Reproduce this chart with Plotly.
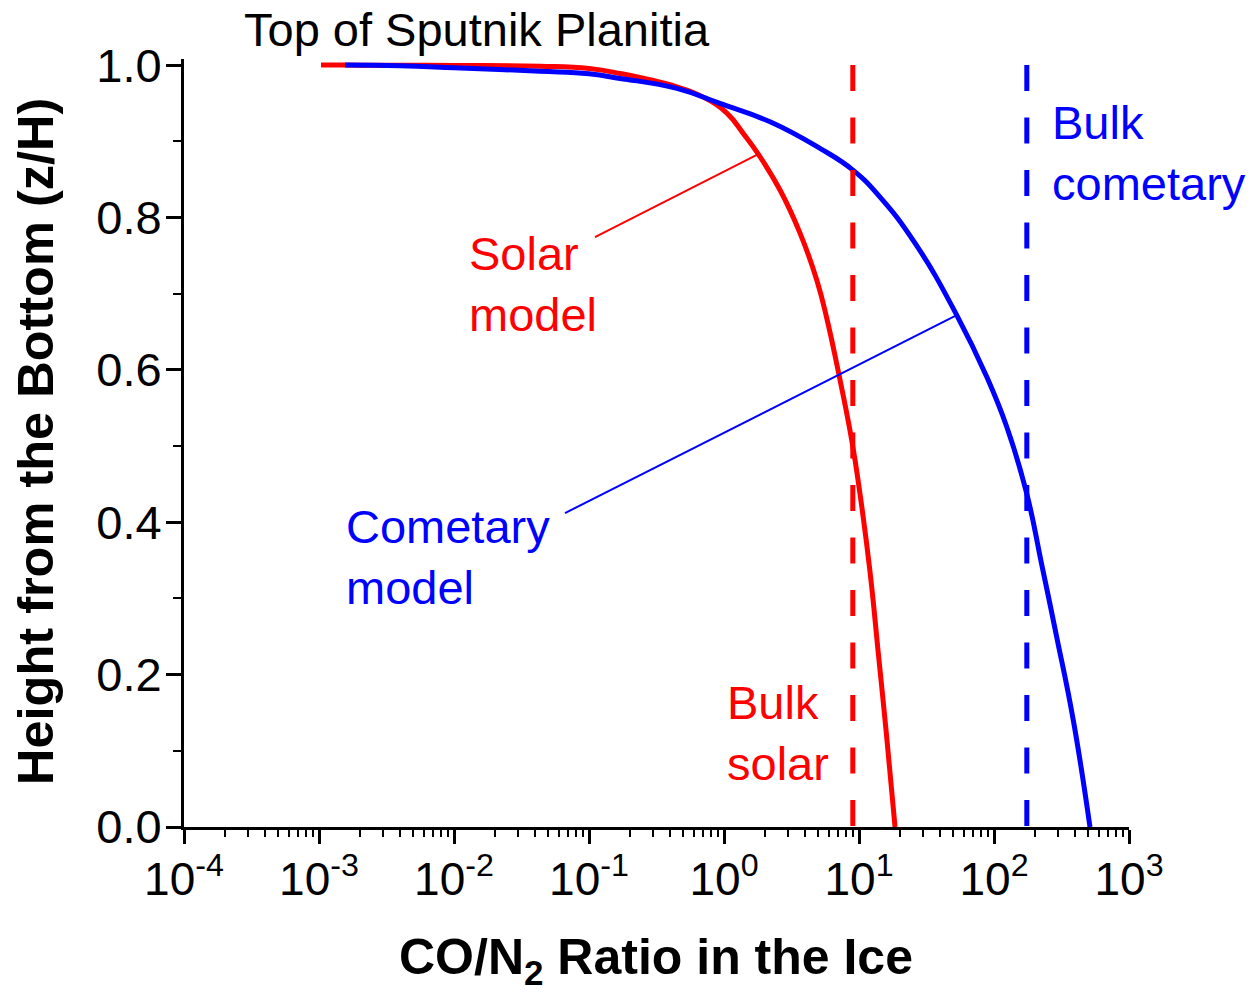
import plotly.graph_objects as go

# ---------------- data ----------------
x_decades = [-4, -3, -2, -1, 0, 1, 2, 3]
x_tick_text = ["10<sup>-4</sup>", "10<sup>-3</sup>", "10<sup>-2</sup>", "10<sup>-1</sup>",
               "10<sup>0</sup>", "10<sup>1</sup>", "10<sup>2</sup>", "10<sup>3</sup>"]
y_ticks = [0.0, 0.2, 0.4, 0.6, 0.8, 1.0]
y_tick_text = ["0.0", "0.2", "0.4", "0.6", "0.8", "1.0"]

solar_x = [0.001035, 0.0015, 0.004, 0.01, 0.0434, 0.1, 0.170, 0.447, 0.703, 1.05, 1.40, 1.795,
           2.600, 3.656, 4.864, 5.768, 6.982, 8.831, 10.16, 12.05, 13.90, 16.03, 18.49]
solar_y = [1.0, 1.0, 0.9998, 0.9995, 0.9985, 0.9955, 0.989, 0.9715, 0.958, 0.937, 0.9094, 0.883,
           0.836, 0.7795, 0.718, 0.668, 0.600, 0.508, 0.438, 0.336, 0.228, 0.1185, 0.0]

comet_x = [0.00156, 0.00398, 0.01, 0.0434, 0.1, 0.170, 0.447, 0.933, 2.193, 5.140, 8.974,
           14.32, 26.0, 52.97, 88.31, 124.2, 174.6, 225.4, 291.1, 386.4, 514.0]
comet_y = [1.0, 0.999, 0.9965, 0.992, 0.9885, 0.9825, 0.9694, 0.9497, 0.9256, 0.8907, 0.8625,
           0.8268, 0.7664, 0.6719, 0.5909, 0.5253, 0.4379, 0.345, 0.2497, 0.1404, 0.0]

bulk_solar = 9.0
bulk_comet = 175.0
bulk_y = [1.0, 0.0]

solar_pointer_x = [0.1107, 1.795]
solar_pointer_y = [0.7743, 0.8832]
comet_pointer_x = [0.0664, 52.97]
comet_pointer_y = [0.412, 0.6719]

labels = ["Top of Sputnik Planitia", "Bulk<br>cometary", "Solar<br>model",
          "Cometary<br>model", "Bulk<br>solar"]

# ---------------- figure ----------------
FONT = "Liberation Sans, Arial, sans-serif"
RED = "#ff0000"
BLUE = "#0000ff"

x_tick_vals = [10.0 ** d for d in x_decades]
x_minor_vals = [m * 10.0 ** d for d in x_decades[:-1] for m in range(2, 10)]

fig = go.Figure()

fig.add_trace(go.Scatter(x=solar_x, y=solar_y, mode="lines",
                         line=dict(color=RED, width=5, shape="spline", smoothing=1.3)))
fig.add_trace(go.Scatter(x=comet_x, y=comet_y, mode="lines",
                         line=dict(color=BLUE, width=5, shape="spline", smoothing=1.3)))
fig.add_trace(go.Scatter(x=solar_pointer_x, y=solar_pointer_y, mode="lines",
                         line=dict(color=RED, width=2)))
fig.add_trace(go.Scatter(x=comet_pointer_x, y=comet_pointer_y, mode="lines",
                         line=dict(color=BLUE, width=2)))
fig.add_trace(go.Scatter(x=[bulk_solar, bulk_solar], y=bulk_y, mode="lines",
                         line=dict(color=RED, width=5, dash="26px,26.5px")))
fig.add_trace(go.Scatter(x=[bulk_comet, bulk_comet], y=bulk_y, mode="lines",
                         line=dict(color=BLUE, width=5, dash="26px,26.5px")))

W, H = 1253, 993
L, R = 184, 1129
Y0PX = 827
PXU = 762.0
ytop = 1.008
TOP = int(round(Y0PX - ytop * PXU))
PH = Y0PX - TOP


def xp(px):
    return (px - L) / (R - L)


def yp(py):
    return (Y0PX - py) / PH


ann_font = dict(family=FONT, size=47)


def label(text, px, py, color):
    return dict(text=text, x=xp(px), y=yp(py), xref="paper", yref="paper",
                xanchor="left", yanchor="middle", align="left", showarrow=False,
                font=dict(ann_font, color=color))


annotations = [
    label(labels[0], 242, 30, "black"),
    label(labels[1], 1050, 153, BLUE),
    label(labels[2], 467, 284, RED),
    label(labels[3], 344, 557, BLUE),
    label(labels[4], 725, 733, RED),
    # axis titles
    dict(text="<b>Height from the Bottom (z/H)</b>", x=xp(35), y=yp(442), xref="paper", yref="paper",
         xanchor="center", yanchor="middle", textangle=-90, showarrow=False,
         font=dict(family=FONT, size=50.5, color="black")),
    dict(text="<b>CO/N<sub>2</sub> Ratio in the Ice</b>", x=xp(656), y=yp(960), xref="paper", yref="paper",
         xanchor="center", yanchor="middle", showarrow=False,
         font=dict(family=FONT, size=50, color="black")),
]

fig.update_layout(
    width=W, height=H,
    margin=dict(l=L, r=W - R, t=TOP, b=H - Y0PX, pad=0),
    paper_bgcolor="white", plot_bgcolor="white",
    showlegend=False,
    annotations=annotations,
    font=dict(family=FONT, color="black"),
)

fig.update_xaxes(
    type="log", range=[-4, 3], showgrid=False, zeroline=False,
    showline=True, linecolor="black", linewidth=3,
    ticks="outside", ticklen=14, tickwidth=3, tickcolor="black",
    tickvals=x_tick_vals, ticktext=x_tick_text,
    tickfont=dict(family=FONT, size=46, color="black"),
    ticklabelstandoff=-4,
    minor=dict(ticks="outside", ticklen=7, tickwidth=2, tickcolor="black", tickvals=x_minor_vals),
    automargin=False,
)
fig.update_yaxes(
    range=[0, ytop], showgrid=False, zeroline=False,
    showline=True, linecolor="black", linewidth=3,
    ticks="outside", ticklen=15, tickwidth=3, tickcolor="black",
    tickvals=y_ticks, ticktext=y_tick_text,
    tickfont=dict(family=FONT, size=47, color="black"),
    ticklabelstandoff=-5,
    minor=dict(ticks="outside", ticklen=8, tickwidth=2, tickcolor="black", dtick=0.1, tick0=0),
    automargin=False,
)

fig.write_html("out.html", config={"displayModeBar": False},
               post_script="document.body.style.margin='0px';document.body.style.overflow='hidden';")
